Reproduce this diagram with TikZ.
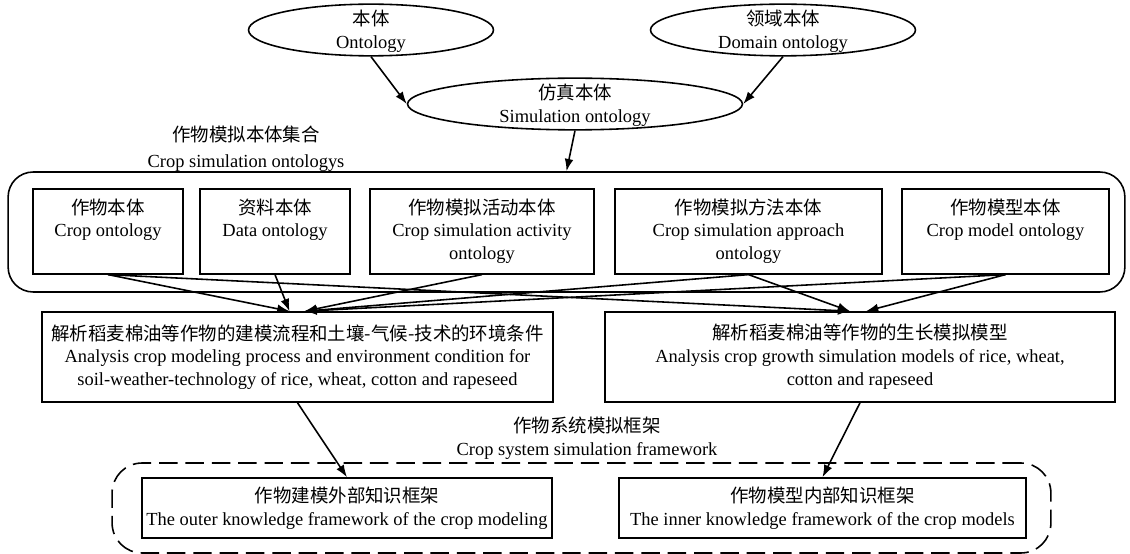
\documentclass[tikz,border=0pt]{standalone}
\usepackage{fontspec}
\setmainfont{Liberation Serif}
\newfontfamily\cjk{Noto Sans CJK SC}
\newcommand{\zh}[1]{{\cjk #1}}
\usetikzlibrary{shapes.geometric, arrows.meta, calc}

\begin{document}
\begin{tikzpicture}[x=0.02cm, y=-0.02cm, line width=0.9pt,
    font=\fontsize{10.5}{13}\selectfont,
    onto/.style={draw, ellipse, align=center, inner sep=0pt, text height=20.8pt, text depth=-2.3pt},
    ontobox/.style={draw, align=center, anchor=north, inner xsep=2pt, inner ysep=6pt, text height=21.4pt, text depth=15pt},
    ontobox3/.style={ontobox, text height=34.4pt, text depth=2pt},
    anabox/.style={draw, align=center, inner sep=2pt, minimum height=1.8cm},
    frbox/.style={draw, align=center, inner sep=2pt, minimum height=1.2cm},
    arr/.style={-{Latex[length=7pt,width=5pt]}}]
\useasboundingbox (0,0) rectangle (1130,554);

% top ontologies
\node[onto, minimum width=4.9cm, minimum height=1cm] (ont) at (371,30) {\zh{本体}\\Ontology};
\node[onto, minimum width=5.3cm, minimum height=1cm] (dom) at (783,30) {\zh{领域本体}\\Domain ontology};
\node[onto, minimum width=6.7cm, minimum height=0.94cm] (sim) at (575,104) {\zh{仿真本体}\\Simulation ontology};
\draw[arr] (ont.south) -- (sim.west);
\draw[arr] (dom.south) -- (sim.east);

% crop simulation ontologys
\node[align=center] (setlbl) at (246,149) {\zh{作物模拟本体集合}\\[2pt]Crop simulation ontologys};
\node[draw, rounded corners=0.5cm, minimum width=22.34cm, minimum height=2.4cm] (ontoset) at (566.5,232) {};
\draw[arr] (sim.south) -- (ontoset.north);

\node[ontobox, minimum width=3cm] (crop) at (108,188) {\zh{作物本体}\\Crop ontology};
\node[ontobox, minimum width=3cm] (data) at (275,188) {\zh{资料本体}\\Data ontology};
\node[ontobox3, minimum width=4.48cm] (act) at (482,188) {\zh{作物模拟活动本体}\\Crop simulation activity\\ontology};
\node[ontobox3, minimum width=5.34cm] (appr) at (748.5,188) {\zh{作物模拟方法本体}\\Crop simulation approach\\ontology};
\node[ontobox, minimum width=4.14cm] (model) at (1005.5,188) {\zh{作物模型本体}\\Crop model ontology};

% analysis
\node[anabox, minimum width=10.22cm] (anl) at (297.5,357) {\zh{解析稻麦棉油等作物的建模流程和土壤-气候-技术的环境条件}\\Analysis crop modeling process and environment condition for\\soil-weather-technology of rice, wheat, cotton and rapeseed};
\node[anabox, minimum width=10.2cm] (ana) at (860,357) {\zh{解析稻麦棉油等作物的生长模拟模型}\\Analysis crop growth simulation models of rice, wheat,\\cotton and rapeseed};

\coordinate (inL1) at ($(anl.north)+(-8,0)$);
\coordinate (inL2) at ($(anl.north)+(7,0)$);
\coordinate (inR1) at ($(ana.north)+(-10,0)$);
\coordinate (inR2) at ($(ana.north)+(6,0)$);
\draw[arr] (crop.south) -- (inL1);
\draw[arr] (data.south) -- (inL1);
\draw[arr] (act.south) -- (inL2);
\draw[arr] (appr.south) -- (inL2);
\draw[arr] (model.south) -- (inL2);
\draw[arr] (crop.south) -- (inR1);
\draw[arr] (appr.south) -- (inR1);
\draw[arr] (model.south) -- (inR2);

% crop system simulation framework
\node[align=center] (frlbl) at (587,438) {\zh{作物系统模拟框架}\\Crop system simulation framework};
\node[draw, rounded corners=0.6cm, dash pattern=on 10.5pt off 4.5pt, minimum width=18.78cm, minimum height=1.8cm] (simframe) at (581.5,508) {};
\node[frbox, minimum width=8.2cm] (outer) at (347,508) {\zh{作物建模外部知识框架}\\The outer knowledge framework of the crop modeling};
\node[frbox, minimum width=8.14cm] (inner) at (822.5,508) {\zh{作物模型内部知识框架}\\The inner knowledge framework of the crop models};
\draw[arr] (anl.south) -- (outer.north);
\draw[arr] (ana.south) -- (inner.north);
\end{tikzpicture}
\end{document}
